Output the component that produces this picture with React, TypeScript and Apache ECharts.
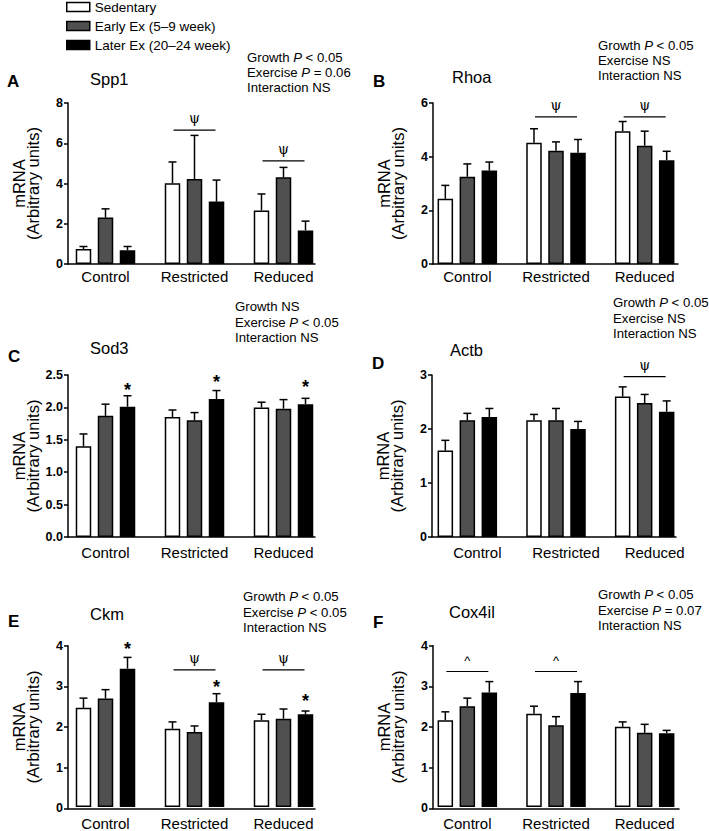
import React, { useEffect, useRef } from 'react';
import * as echarts from 'echarts';

const FONT = '"Liberation Sans", Arial, Helvetica, sans-serif';

const categories = ['Control', 'Restricted', 'Reduced'];
const groupNames = ['Sedentary', 'Early Ex (5–9 week)', 'Later Ex (20–24 week)'];
const groupColors = ['#ffffff', '#505050', '#000000'];

// Spp1 (A)
const spp1Means = [[0.74, 4.01, 2.66], [2.31, 4.22, 4.31], [0.68, 3.10, 1.67]];
const spp1Errors = [[0.13, 1.06, 0.82], [0.43, 2.17, 0.49], [0.19, 1.07, 0.46]];
const spp1Brackets = [[1, 6.65], [2, 5.12]];
const spp1Stars: number[][] = [];
const spp1Stats = ['Growth {i|P} < 0.05', 'Exercise {i|P} = 0.06', 'Interaction NS'];
const spp1Ticks = { min: 0, max: 8, interval: 2 };

// Rhoa (B)
const rhoaMeans = [[2.43, 4.52, 4.95], [3.25, 4.22, 4.41], [3.48, 4.15, 3.87]];
const rhoaErrors = [[0.50, 0.52, 0.36], [0.48, 0.33, 0.54], [0.32, 0.49, 0.33]];
const rhoaBrackets = [[1, 5.48], [2, 5.48]];
const rhoaStars: number[][] = [];
const rhoaStats = ['Growth {i|P} < 0.05', 'Exercise NS', 'Interaction NS'];
const rhoaTicks = { min: 0, max: 6, interval: 2 };

// Sod3 (C)
const sod3Means = [[1.40, 1.85, 2.00], [1.87, 1.80, 1.98], [2.01, 2.13, 2.05]];
const sod3Errors = [[0.19, 0.11, 0.08], [0.18, 0.12, 0.14], [0.17, 0.13, 0.09]];
const sod3Brackets: number[][] = [];
const sod3Stars = [[0, 2.33], [1, 2.45], [2, 2.38]];
const sod3Stats = ['Growth NS', 'Exercise {i|P} < 0.05', 'Interaction NS'];
const sod3Ticks = { min: 0, max: 2.5, interval: 0.5 };

// Actb (D)
const actbMeans = [[1.60, 2.16, 2.60], [2.16, 2.16, 2.48], [2.22, 2.00, 2.32]];
const actbErrors = [[0.19, 0.11, 0.18], [0.13, 0.22, 0.16], [0.16, 0.14, 0.20]];
const actbBrackets = [[2, 2.97]];
const actbStars: number[][] = [];
const actbStats = ['Growth {i|P} < 0.05', 'Exercise NS', 'Interaction NS'];
const actbTicks = { min: 0, max: 3, interval: 1 };

// Ckm (E)
const ckmMeans = [[2.46, 1.94, 2.15], [2.69, 1.86, 2.19], [3.43, 2.60, 2.30]];
const ckmErrors = [[0.24, 0.17, 0.15], [0.22, 0.15, 0.24], [0.28, 0.21, 0.08]];
const ckmBrackets = [[1, 3.40], [2, 3.40]];
const ckmStars = [[0, 4.02], [1, 3.08], [2, 2.74]];
const ckmStats = ['Growth {i|P} < 0.05', 'Exercise {i|P} < 0.05', 'Interaction NS'];
const ckmTicks = { min: 0, max: 4, interval: 1 };

// Cox4il (F)
const cox4ilMeans = [[2.15, 2.31, 1.99], [2.50, 2.03, 1.84], [2.84, 2.83, 1.83]];
const cox4ilErrors = [[0.21, 0.19, 0.12], [0.20, 0.21, 0.21], [0.27, 0.28, 0.07]];
const cox4ilBrackets = [[0, 3.36], [1, 3.36]];
const cox4ilStars: number[][] = [];
const cox4ilStats = ['Growth {i|P} < 0.05', 'Exercise {i|P} = 0.07', 'Interaction NS'];
const cox4ilTicks = { min: 0, max: 4, interval: 1 };

const BAR_WIDTH = 15.5;
const BAR_GAP = 0.42;
const BAR_STEP = BAR_WIDTH * (1 + BAR_GAP);
const STATS_FONT = 13.2;

const panels = [
  { letter: 'A', gene: 'Spp1', means: spp1Means, errors: spp1Errors, brackets: spp1Brackets, bracketSymbol: 'ψ', stars: spp1Stars, stats: spp1Stats, ticks: spp1Ticks, decimals: 0,
    frame: [68, 315], data: [61, 328], top: 103, bottom: 264, letterPos: [7, 81], genePos: [90, 79], statsPos: [247, 49.5], statsLH: 15, labelMargin: 5, labelShift: 0 },
  { letter: 'B', gene: 'Rhoa', means: rhoaMeans, errors: rhoaErrors, brackets: rhoaBrackets, bracketSymbol: 'ψ', stars: rhoaStars, stats: rhoaStats, ticks: rhoaTicks, decimals: 0,
    frame: [433, 678], data: [423, 689], top: 103, bottom: 264, letterPos: [373, 81], genePos: [452, 77], statsPos: [598, 37.5], statsLH: 15, labelMargin: 5, labelShift: 0 },
  { letter: 'C', gene: 'Sod3', means: sod3Means, errors: sod3Errors, brackets: sod3Brackets, bracketSymbol: 'ψ', stars: sod3Stars, stats: sod3Stats, ticks: sod3Ticks, decimals: 1,
    frame: [68, 315], data: [61, 328], top: 375, bottom: 537, letterPos: [8, 356], genePos: [90, 348], statsPos: [235, 299], statsLH: 15.5, labelMargin: 8, labelShift: 0 },
  { letter: 'D', gene: 'Actb', means: actbMeans, errors: actbErrors, brackets: actbBrackets, bracketSymbol: 'ψ', stars: actbStars, stats: actbStats, ticks: actbTicks, decimals: 0,
    frame: [432, 676], data: [423, 689], top: 375, bottom: 537, letterPos: [372, 363], genePos: [450, 350], statsPos: [613, 295], statsLH: 15.5, labelMargin: 8, labelShift: 20 },
  { letter: 'E', gene: 'Ckm', means: ckmMeans, errors: ckmErrors, brackets: ckmBrackets, bracketSymbol: 'ψ', stars: ckmStars, stats: ckmStats, ticks: ckmTicks, decimals: 0,
    frame: [68, 315], data: [61, 328], top: 645.7, bottom: 808.3, letterPos: [8, 621], genePos: [90, 614], statsPos: [243, 589], statsLH: 15.5, labelMargin: 9, labelShift: 0 },
  { letter: 'F', gene: 'Cox4il', means: cox4ilMeans, errors: cox4ilErrors, brackets: cox4ilBrackets, bracketSymbol: '^', stars: cox4ilStars, stats: cox4ilStats, ticks: cox4ilTicks, decimals: 0,
    frame: [433, 679], data: [423, 689], top: 645.7, bottom: 808.3, letterPos: [373, 622], genePos: [449, 612], statsPos: [598, 587], statsLH: 15.5, labelMargin: 9, labelShift: 0 },
];

function buildOption() {
  const grid: any[] = [];
  const xAxis: any[] = [];
  const yAxis: any[] = [];
  const series: any[] = [];
  const graphic: any[] = [];

  panels.forEach((p, pi) => {
    const fi = pi * 2;
    const di = pi * 2 + 1;
    const height = p.bottom - p.top;
    grid.push({ left: p.frame[0], top: p.top, width: p.frame[1] - p.frame[0], height, containLabel: false });
    grid.push({ left: p.data[0], top: p.top, width: p.data[1] - p.data[0], height, containLabel: false });

    xAxis.push({
      type: 'value', gridIndex: fi, min: 0, max: 1,
      axisLine: { show: true, onZero: false, lineStyle: { color: '#000', width: 1.5 } },
      axisTick: { show: false }, axisLabel: { show: false }, splitLine: { show: false },
    });
    xAxis.push({
      type: 'category', gridIndex: di, data: categories,
      axisLine: { show: false }, axisTick: { show: false }, splitLine: { show: false },
      axisLabel: { show: true, color: '#000', fontSize: 15, fontFamily: FONT, margin: p.labelMargin, padding: [0, 0, 0, p.labelShift] },
    });
    yAxis.push({
      type: 'value', gridIndex: fi, min: p.ticks.min, max: p.ticks.max, interval: p.ticks.interval,
      axisLine: { show: true, lineStyle: { color: '#000', width: 1.5 } },
      axisTick: { show: true, inside: false, length: 4, lineStyle: { color: '#000', width: 1.5 } },
      splitLine: { show: false },
      axisLabel: {
        color: '#000', fontSize: 12.5, fontWeight: 'bold', fontFamily: FONT, margin: 5,
        formatter: (v: number) => v.toFixed(p.decimals),
      },
      name: 'mRNA\n(Arbitrary units)', nameLocation: 'middle', nameGap: 28,
      nameTextStyle: { color: '#000', fontSize: 16.5, lineHeight: 14, fontFamily: FONT },
    });
    yAxis.push({
      type: 'value', gridIndex: di, min: p.ticks.min, max: p.ticks.max, interval: p.ticks.interval,
      show: false,
    });

    groupNames.forEach((g, s) => {
      series.push({
        type: 'bar', name: g, xAxisIndex: di, yAxisIndex: di,
        data: p.means[s], barWidth: BAR_WIDTH, barGap: `${BAR_GAP * 100}%`,
        itemStyle: { color: groupColors[s], borderColor: '#000', borderWidth: 1.5 },
        silent: true,
      });
    });

    const errData: number[][] = [];
    p.means.forEach((arr, s) => arr.forEach((m, c) => errData.push([c, m, p.errors[s][c], s])));
    series.push({
      type: 'custom', xAxisIndex: di, yAxisIndex: di, silent: true, z: 3,
      encode: { x: 0, y: 1 },
      data: errData,
      renderItem: (params: any, api: any) => {
        const c = api.value(0), m = api.value(1), e = api.value(2), s = api.value(3);
        const base = api.coord([c, m]);
        const top = api.coord([c, m + e]);
        const x = base[0] + (s - 1) * BAR_STEP;
        const st = { stroke: '#000', lineWidth: 1.5 };
        return {
          type: 'group',
          children: [
            { type: 'line', shape: { x1: x, y1: base[1], x2: x, y2: top[1] }, style: st },
            { type: 'line', shape: { x1: x - 4, y1: top[1], x2: x + 4, y2: top[1] }, style: st },
          ],
        };
      },
    });

    if (p.brackets.length) {
      series.push({
        type: 'custom', xAxisIndex: di, yAxisIndex: di, silent: true, z: 3,
        encode: { x: 0, y: 1 },
        data: p.brackets,
        renderItem: (params: any, api: any) => {
          const pt = api.coord([api.value(0), api.value(1)]);
          const isPsi = p.bracketSymbol === 'ψ';
          return {
            type: 'group',
            children: [
              { type: 'line', shape: { x1: pt[0] - 21, y1: pt[1], x2: pt[0] + 21, y2: pt[1] }, style: { stroke: '#000', lineWidth: 1.2 } },
              {
                type: 'text', x: pt[0], y: pt[1] - (isPsi ? 12 : 11),
                style: {
                  text: p.bracketSymbol, fill: '#000', fontSize: isPsi ? 14 : 13,
                  fontFamily: isPsi ? '"DejaVu Serif", serif' : FONT,
                  align: 'center', verticalAlign: 'middle',
                },
              },
            ],
          };
        },
      });
    }

    if (p.stars.length) {
      series.push({
        type: 'custom', xAxisIndex: di, yAxisIndex: di, silent: true, z: 3,
        encode: { x: 0, y: 1 },
        data: p.stars,
        renderItem: (params: any, api: any) => {
          const pt = api.coord([api.value(0), api.value(1)]);
          return {
            type: 'text', x: pt[0] + BAR_STEP, y: pt[1] + 4,
            style: {
              text: '*', fill: '#000', fontSize: 18, fontWeight: 'bold', fontFamily: FONT,
              align: 'center', verticalAlign: 'middle',
            },
          };
        },
      });
    }

    graphic.push({
      type: 'text', x: p.letterPos[0], y: p.letterPos[1],
      style: { text: p.letter, fill: '#000', fontSize: 17, fontWeight: 'bold', fontFamily: FONT, align: 'left', verticalAlign: 'middle' },
    });
    graphic.push({
      type: 'text', x: p.genePos[0], y: p.genePos[1],
      style: { text: p.gene, fill: '#000', fontSize: 16.5, fontFamily: FONT, align: 'left', verticalAlign: 'middle' },
    });
    graphic.push({
      type: 'text', x: p.statsPos[0], y: p.statsPos[1],
      style: {
        text: p.stats.join('\n'), fill: '#000', fontSize: STATS_FONT, fontFamily: FONT, lineHeight: p.statsLH,
        align: 'left', verticalAlign: 'top',
        rich: { i: { fontStyle: 'italic', fontSize: STATS_FONT, fontFamily: FONT, fill: '#000', lineHeight: p.statsLH } },
      },
    });
  });

  return {
    animation: false,
    backgroundColor: '#ffffff',
    legend: {
      show: true, orient: 'vertical', left: 66, top: 0, padding: 0,
      data: groupNames, selectedMode: false,
      icon: 'rect', itemWidth: 23, itemHeight: 9, itemGap: 5,
      textStyle: { color: '#000', fontSize: 13.5, fontFamily: FONT, lineHeight: 13 },
      itemStyle: { borderColor: '#000', borderWidth: 1.5 },
    },
    grid, xAxis, yAxis, series, graphic,
  };
}

export default function App() {
  const ref = useRef<HTMLDivElement>(null);
  useEffect(() => {
    if (!ref.current) return;
    const chart = echarts.init(ref.current, undefined, { renderer: 'svg' });
    chart.setOption(buildOption() as any);
    return () => chart.dispose();
  }, []);
  return (
    <div
      ref={ref}
      style={{ position: 'absolute', left: 0, top: 0, width: 709, height: 831, background: '#fff' }}
    />
  );
}
